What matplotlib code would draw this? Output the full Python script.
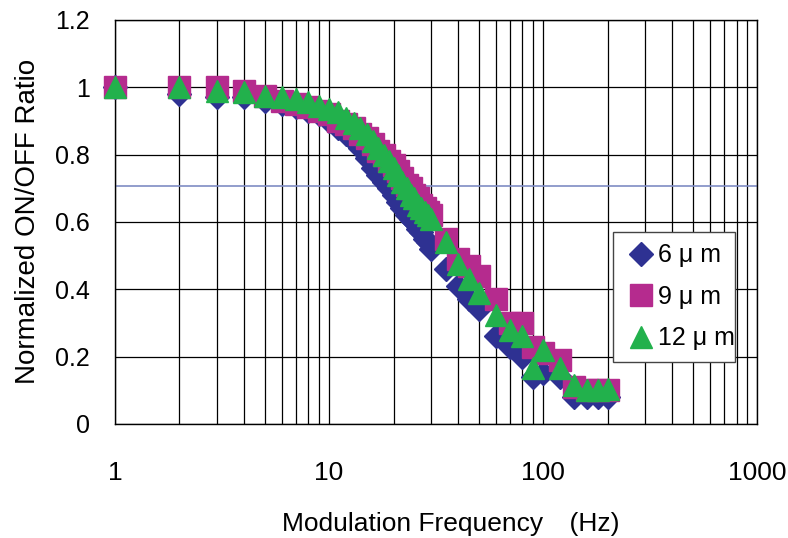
import matplotlib.pyplot as plt
from matplotlib.ticker import FixedLocator, NullFormatter

plt.rcParams['font.family'] = ['Liberation Sans', 'DejaVu Sans']

# frequencies (Hz), shared by all three series
freq = [1, 2, 3, 4, 5, 6, 7, 8, 9, 10, 11, 12, 13, 14, 15, 16, 17, 18, 19, 20,
        21, 22, 23, 24, 25, 26, 27, 28, 29, 30, 35, 40, 45, 50, 60, 70, 80, 90,
        100, 120, 140, 160, 180, 200]

ratio_6um = [1.00, 0.98, 0.97, 0.97, 0.96, 0.95, 0.94, 0.93, 0.92, 0.90,
             0.88, 0.86, 0.84, 0.82, 0.79, 0.76, 0.74, 0.72, 0.70, 0.68,
             0.66, 0.64, 0.62, 0.61, 0.60, 0.58, 0.57, 0.55, 0.54, 0.52,
             0.46, 0.41, 0.37, 0.34, 0.26, 0.23, 0.20, 0.14, 0.15, 0.14,
             0.08, 0.08, 0.08, 0.08]

ratio_9um = [1.00, 1.00, 1.00, 0.99, 0.975, 0.96, 0.95, 0.94, 0.93, 0.92,
             0.90, 0.89, 0.88, 0.86, 0.85, 0.83, 0.81, 0.80, 0.78, 0.77,
             0.75, 0.73, 0.71, 0.70, 0.68, 0.67, 0.65, 0.64, 0.63, 0.62,
             0.55, 0.49, 0.47, 0.44, 0.37, 0.30, 0.30, 0.23, 0.21, 0.19,
             0.11, 0.10, 0.10, 0.10]

ratio_12um = [1.00, 1.00, 0.99, 0.985, 0.975, 0.97, 0.965, 0.955, 0.945, 0.935,
              0.925, 0.91, 0.895, 0.88, 0.86, 0.84, 0.82, 0.80, 0.78, 0.76,
              0.74, 0.72, 0.70, 0.68, 0.67, 0.65, 0.64, 0.63, 0.62, 0.61,
              0.54, 0.475, 0.43, 0.39, 0.325, 0.28, 0.26, 0.165, 0.22, 0.165,
              0.115, 0.10, 0.10, 0.105]

labels = ['6 μ m', '9 μ m', '12 μ m']
half_power = 0.707

fig = plt.figure(figsize=(7.88, 5.38), dpi=100)
ax = fig.add_axes([0.146, 0.212, 0.815, 0.751])

ax.set_xscale('log')
ax.set_xlim(1, 1000)
ax.set_ylim(0, 1.2)

# grid: every integer within each decade, and 0.2 steps in y
minor_x = [m * 10 ** d for d in range(3) for m in range(2, 10)]
ax.xaxis.set_minor_locator(FixedLocator(minor_x))
ax.xaxis.set_minor_formatter(NullFormatter())
ax.set_xticks([1, 10, 100, 1000])
ax.set_xticklabels(['1', '10', '100', '1000'])
ax.set_yticks([0, 0.2, 0.4, 0.6, 0.8, 1.0, 1.2])
ax.set_yticklabels(['0', '0.2', '0.4', '0.6', '0.8', '1', '1.2'])
ax.grid(True, which='both', axis='x', color='black', linewidth=0.9)
ax.grid(True, which='major', axis='y', color='black', linewidth=0.9)
ax.set_axisbelow(True)
ax.tick_params(which='both', length=0)
ax.tick_params(axis='x', labelsize=19, pad=27)
ax.tick_params(axis='y', labelsize=18, pad=18)
for s in ax.spines.values():
    s.set_linewidth(1.0)
    s.set_color('black')

ax.axhline(half_power, color='#7F8CC4', linewidth=1.2, zorder=1)

ax.plot(freq, ratio_6um, linestyle='none', marker='D', markersize=12.5,
        color='#2E3192', label=labels[0], zorder=3, clip_on=False)
ax.plot(freq, ratio_9um, linestyle='none', marker='s', markersize=15.5,
        color='#B52B8E', label=labels[1], zorder=4, clip_on=False)
ax.plot(freq, ratio_12um, linestyle='none', marker='^', markersize=16,
        color='#22B14C', label=labels[2], zorder=5, clip_on=False)

leg = ax.legend(loc='upper left', bbox_to_anchor=(0.776, 0.153, 0.19, 0.322),
                mode='expand', fontsize=18, frameon=True, fancybox=False,
                framealpha=1, borderpad=0.45, labelspacing=0.7,
                handletextpad=0.05, handlelength=1.3, borderaxespad=0)
leg.get_frame().set_edgecolor('#444444')
leg.get_frame().set_linewidth(1.0)

ax.set_xlabel('Modulation Frequency\u2003(Hz)', fontsize=19, labelpad=20)
ax.xaxis.set_label_coords(0.523, -0.218)
ax.set_ylabel('Normalized ON/OFF Ratio', fontsize=20, labelpad=10)

fig.savefig('out.png', dpi=100)
